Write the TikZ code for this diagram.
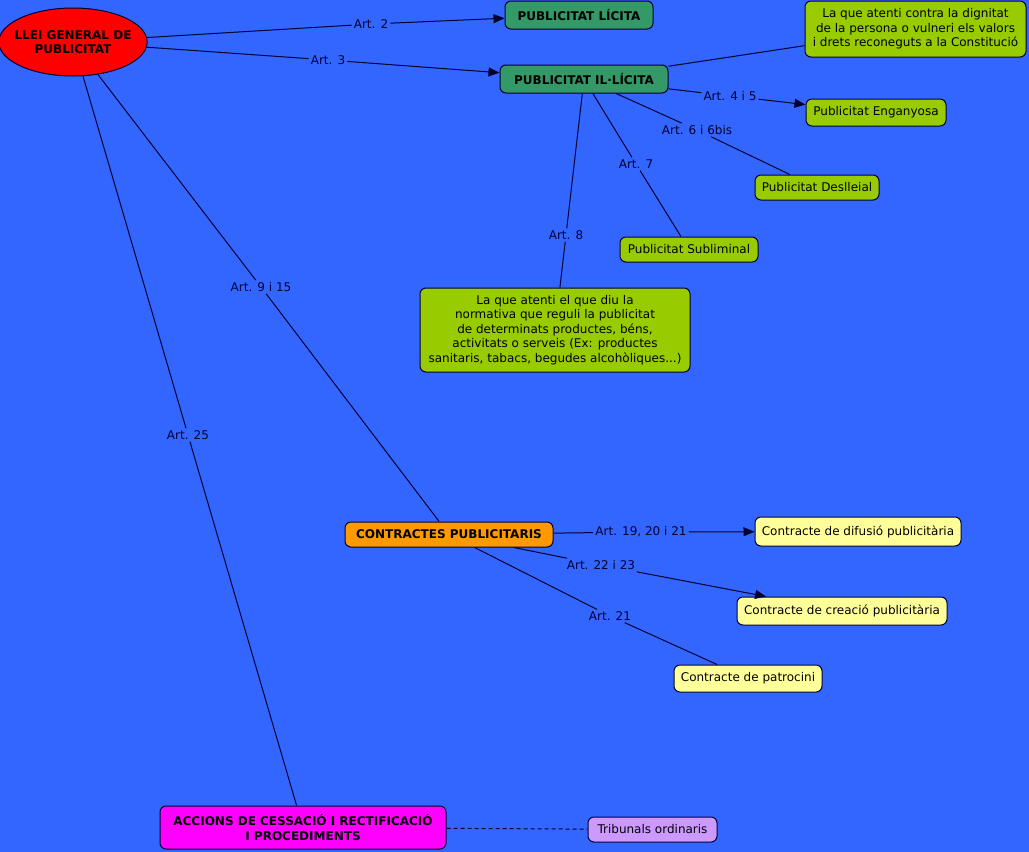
\documentclass[tikz,border=0pt]{standalone}
\usepackage{fontspec}
\setmainfont{DejaVu Sans}
\usetikzlibrary{arrows.meta,shapes.geometric}
\definecolor{mapblue}{RGB}{51,102,255}
\definecolor{mapline}{RGB}{0,0,51}
\definecolor{rootred}{RGB}{255,0,0}
\definecolor{headgreen}{RGB}{51,153,102}
\definecolor{leaflime}{RGB}{153,204,0}
\definecolor{dealorange}{RGB}{255,153,0}
\definecolor{offeryellow}{RGB}{255,255,153}
\definecolor{actmagenta}{RGB}{255,0,255}
\definecolor{courtlilac}{RGB}{204,153,255}

\begin{document}
\begin{tikzpicture}[x=1pt,y=-1pt,
        every node/.style={font=\fontsize{12}{14.5}\selectfont},
        root/.style={ellipse,draw=mapline,fill=rootred,line width=1pt,inner xsep=-6pt,inner ysep=0pt,
          minimum width=146pt,minimum height=68pt,align=center,
          font=\fontsize{12}{14.5}\selectfont\bfseries},
        box/.style={rectangle,rounded corners=6pt,draw=mapline,line width=1pt,
          inner sep=2pt,align=center},
        head/.style={box,fill=headgreen,font=\fontsize{12}{14.5}\selectfont\bfseries},
        leaf/.style={box,fill=leaflime},
        deal/.style={box,fill=dealorange,font=\fontsize{12}{14.5}\selectfont\bfseries},
        offer/.style={box,fill=offeryellow},
        act/.style={box,fill=actmagenta,font=\fontsize{12}{14.5}\selectfont\bfseries},
        court/.style={box,fill=courtlilac},
        artlabel/.style={text=mapline,inner sep=2pt},
        conn/.style={draw=mapline,line width=1pt},
        arrow/.style={conn,-{Triangle[length=11pt,width=9pt]}}]
        \fill[mapblue] (0,0) rectangle (1029,852);
        \useasboundingbox (0,0) rectangle (1029,852);

        % concepts
        \node[root] (llei) at (73,42) {LLEI GENERAL DE\\PUBLICITAT};
        \node[head,minimum width=148pt,minimum height=28pt] (licita) at (579,15) {PUBLICITAT LÍCITA};
        \node[head,minimum width=168pt,minimum height=28pt] (illicita) at (584,79) {PUBLICITAT IL·LÍCITA};
        \node[leaf,minimum width=221pt,minimum height=56pt] (dignitat) at (915.5,29)
          {La que atenti contra la dignitat\\de la persona o vulneri els valors\\i drets reconeguts a la Constitució};
        \node[leaf,minimum width=140pt,minimum height=27pt] (enganyosa) at (876,112.5) {Publicitat Enganyosa};
        \node[leaf,minimum width=124pt,minimum height=25pt] (deslleial) at (817,187.5) {Publicitat Deslleial};
        \node[leaf,minimum width=138pt,minimum height=25pt] (subliminal) at (689,249.5) {Publicitat Subliminal};
        \node[leaf,minimum width=270pt,minimum height=84pt] (normativa) at (555,330)
          {La que atenti el que diu la\\normativa que reguli la publicitat\\de determinats productes, béns,\\activitats o serveis (Ex: productes\\sanitaris, tabacs, begudes alcohòliques...)};
        \node[deal,minimum width=208pt,minimum height=25pt] (contractes) at (449,534.5) {CONTRACTES PUBLICITARIS};
        \node[offer,minimum width=206pt,minimum height=29pt] (difusio) at (858,531.5) {Contracte de difusió publicitària};
        \node[offer,minimum width=210pt,minimum height=28pt] (creacio) at (842,611) {Contracte de creació publicitària};
        \node[offer,minimum width=148pt,minimum height=27pt] (patrocini) at (748,678.5) {Contracte de patrocini};
        \node[act,minimum width=286pt,minimum height=43pt] (accions) at (303,827.5)
          {ACCIONS DE CESSACIÓ I RECTIFICACIÓ\\I PROCEDIMENTS};
        \node[court,minimum width=129pt,minimum height=25pt] (tribunals) at (652.5,829.5) {Tribunals ordinaris};

        % linking phrases
        \node[artlabel] (art2) at (371,24) {Art. 2};
        \node[artlabel] (art3) at (328,60) {Art. 3};
        \node[artlabel] (art45) at (730,96) {Art. 4 i 5};
        \node[artlabel] (art6) at (697,130) {Art. 6 i 6bis};
        \node[artlabel] (art7) at (636,164) {Art. 7};
        \node[artlabel] (art8) at (566,235) {Art. 8};
        \node[artlabel] (art9) at (261,287) {Art. 9 i 15};
        \node[artlabel] (art25) at (188,435) {Art. 25};
        \node[artlabel] (art19) at (641,532) {Art. 19, 20 i 21};
        \node[artlabel] (art22) at (601,565) {Art. 22 i 23};
        \node[artlabel] (art21) at (610,616) {Art. 21};

        % connections
        \draw[conn] (llei) -- (art2);
        \draw[arrow] (art2) -- (licita);
        \draw[conn] (llei) -- (art3);
        \draw[arrow] (art3) -- (illicita);
        \draw[conn] (illicita) -- (dignitat);
        \draw[conn] (illicita) -- (art45);
        \draw[arrow] (art45) -- (enganyosa);
        \draw[conn] (illicita) -- (art6) -- (deslleial);
        \draw[conn] (illicita) -- (art7) -- (subliminal);
        \draw[conn] (illicita) -- (art8) -- (normativa);
        \draw[conn] (llei) -- (art9) -- (contractes);
        \draw[conn] (llei) -- (art25) -- (accions);
        \draw[conn] (contractes) -- (art19);
        \draw[arrow] (art19) -- (difusio);
        \draw[conn] (contractes) -- (art22);
        \draw[arrow] (art22) -- (creacio);
        \draw[conn] (contractes) -- (art21) -- (patrocini);
        \draw[conn,dash pattern=on 4pt off 3pt] (accions) -- (tribunals);
      \end{tikzpicture}
\end{document}
